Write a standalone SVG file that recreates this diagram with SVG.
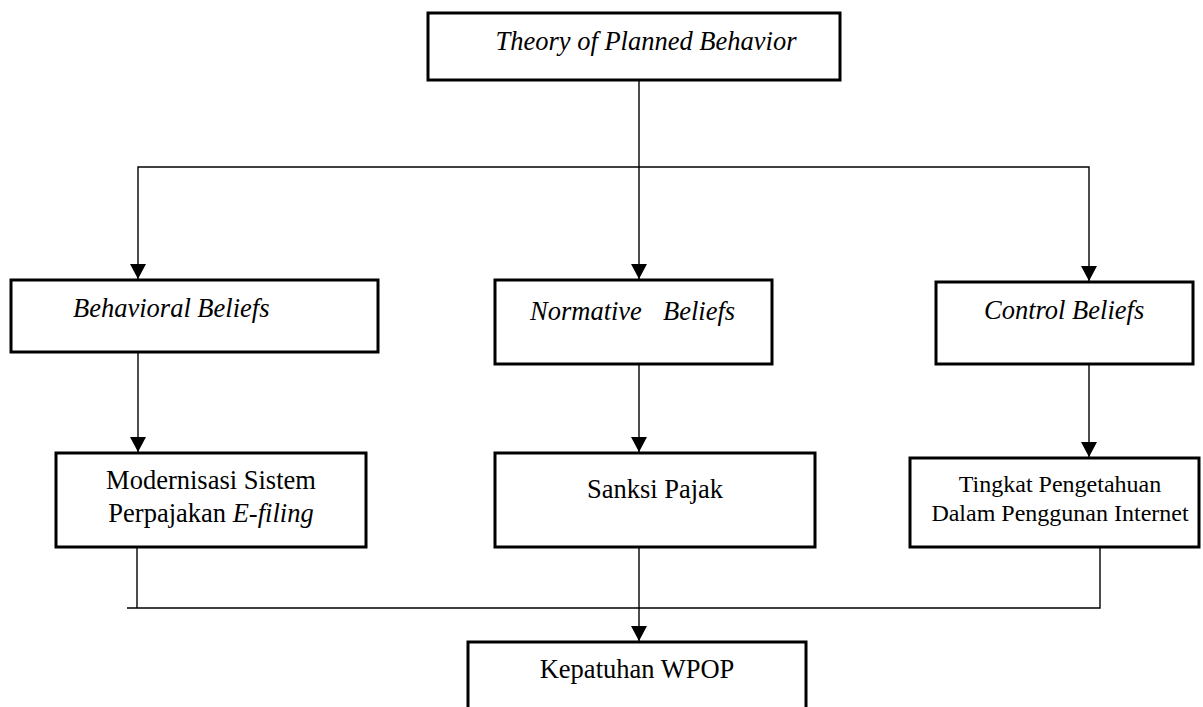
<svg xmlns="http://www.w3.org/2000/svg" width="1203" height="707" viewBox="0 0 1203 707">
  <style>
    .box { fill: #ffffff; stroke: #000000; stroke-width: 3; }
    .conn { fill: none; stroke: #000000; stroke-width: 1.4; }
    .t { font-family: "Liberation Serif", "Times New Roman", serif; font-size: 26.5px; fill: #000000; }
    .s { font-size: 24px; }
    .i { font-style: italic; }
  </style>
  <defs>
    <marker id="arr" markerUnits="userSpaceOnUse" markerWidth="16" markerHeight="16" refX="15" refY="8" orient="auto">
      <path d="M0,0 L15,8 L0,16 z" fill="#000000"/>
    </marker>
  </defs>
  <rect width="1203" height="707" fill="#ffffff"/>

  <g id="connectors">
    <line class="conn" x1="639" y1="80" x2="639" y2="279" marker-end="url(#arr)"/>
    <polyline class="conn" points="639,167 138,167 138,279" marker-end="url(#arr)"/>
    <polyline class="conn" points="639,167 1089,167 1089,281" marker-end="url(#arr)"/>
    <line class="conn" x1="138" y1="352" x2="138" y2="452" marker-end="url(#arr)"/>
    <line class="conn" x1="639" y1="364" x2="639" y2="452" marker-end="url(#arr)"/>
    <line class="conn" x1="1089" y1="364" x2="1089" y2="457" marker-end="url(#arr)"/>
    <polyline class="conn" points="137,538 137,608"/>
    <polyline class="conn" points="1100,547 1100,608 127,608"/>
    <line class="conn" x1="639" y1="547" x2="639" y2="641" marker-end="url(#arr)"/>
  </g>

  <g id="tpb">
    <rect class="box" x="428" y="13" width="412" height="67"/>
    <text class="t i" x="646" y="50" text-anchor="middle">Theory of Planned Behavior</text>
  </g>

  <g id="behavioral">
    <rect class="box" x="11" y="280" width="367" height="72"/>
    <text class="t i" x="73" y="317">Behavioral Beliefs</text>
  </g>

  <g id="normative">
    <rect class="box" x="495" y="280" width="277" height="84"/>
    <text class="t i" x="530" y="320">Normative</text>
    <text class="t i" x="663" y="320">Beliefs</text>
  </g>

  <g id="control">
    <rect class="box" x="936" y="282" width="257" height="82"/>
    <text class="t i" x="984" y="319">Control Beliefs</text>
  </g>

  <g id="modernisasi">
    <rect class="box" x="56" y="453" width="310" height="94"/>
    <text class="t" x="211" y="489" text-anchor="middle">Modernisasi Sistem</text>
    <text class="t" x="211" y="522" text-anchor="middle">Perpajakan <tspan class="i">E-filing</tspan></text>
  </g>

  <g id="sanksi">
    <rect class="box" x="495" y="453" width="320" height="94"/>
    <text class="t" x="655" y="498" text-anchor="middle">Sanksi Pajak</text>
  </g>

  <g id="tingkat">
    <rect class="box" x="910" y="458" width="289" height="89"/>
    <text class="t s" x="1060" y="492" text-anchor="middle">Tingkat Pengetahuan</text>
    <text class="t s" x="1060" y="521" text-anchor="middle">Dalam Penggunan Internet</text>
  </g>

  <g id="kepatuhan">
    <rect class="box" x="468" y="642" width="338" height="80"/>
    <text class="t" x="637" y="678" text-anchor="middle">Kepatuhan WPOP</text>
  </g>
</svg>
